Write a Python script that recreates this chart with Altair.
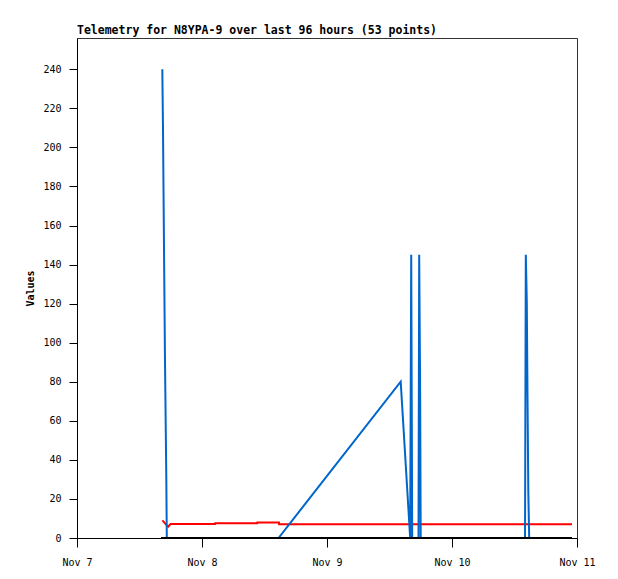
import altair as alt
import pandas as pd

BASE = pd.Timestamp("2024-11-07 00:00:00")

title_text = "Telemetry for N8YPA-9 over last 96 hours (53 points)"
y_title = "Values"
x_tick_days = [7, 8, 9, 10, 11]
y_ticks = [0, 20, 40, 60, 80, 100, 120, 140, 160, 180, 200, 220, 240]

# hours after Nov 7 00:00
blue_hours = [16.38, 16.51, 16.70, 16.90, 17.15, 17.24, 38.69, 62.15, 63.97, 64.17,
              64.36, 65.57, 65.70, 65.89, 65.99, 86.02, 86.17, 86.36, 86.50, 86.65,
              86.82, 95.04]
blue_values = [240, 210, 150, 90, 30, 0, 0, 80, 0, 145,
               0, 0, 145, 72, 0, 0, 145, 121, 72, 24,
               0, 0]

red_hours = [16.40, 17.36, 17.53, 17.85, 17.99, 26.50, 26.52, 34.60, 34.62, 38.78, 38.80, 95.04]
red_values = [9.0, 6.1, 5.8, 6.8, 7.2, 7.2, 7.5, 7.5, 8.0, 8.0, 7.0, 7.0]

black_hours = [16.13, 95.04]
black_values = [0, 0]


def frame(hours, values):
    return pd.DataFrame({
        "time": [(BASE + pd.Timedelta(hours=h)).strftime("%Y-%m-%dT%H:%M:%S") for h in hours],
        "value": values,
    })


def day(d):
    return alt.DateTime(year=2024, month=11, date=d, hours=0)


FONT = "DejaVu Sans Mono"

x_enc = alt.X(
    "time:T",
    scale=alt.Scale(domain=[day(7), day(11)]),
    axis=alt.Axis(
        values=[day(d) for d in x_tick_days],
        format="%b %-d",
        title=None,
        grid=False,
        tickSize=9,
        labelPadding=10,
        labelFlush=False,
        labelOverlap=False,
        labelFont=FONT,
        labelFontSize=10,
        labelColor="black",
        tickColor="black",
        domainColor="black",
    ),
)
y_enc = alt.Y(
    "value:Q",
    scale=alt.Scale(domain=[0, 256], nice=False, zero=True),
    axis=alt.Axis(
        values=y_ticks,
        title=y_title,
        titleFont=FONT,
        titleFontSize=10,
        titleFontWeight="bold",
        titleColor="black",
        titlePadding=7,
        grid=False,
        tickSize=8,
        labelPadding=8,
        labelFont=FONT,
        labelFontSize=10,
        labelColor="black",
        tickColor="black",
        domainColor="black",
    ),
)


def layer(hours, values, color):
    return alt.Chart(frame(hours, values)).mark_line(
        color=color, strokeWidth=2, interpolate="linear"
    ).encode(x=x_enc, y=y_enc)


chart = alt.layer(
    layer(red_hours, red_values, "#ff0000"),
    layer(blue_hours, blue_values, "#0066cc"),
    layer(black_hours, black_values, "#000000"),
).properties(
    width=500,
    height=500,
    title=alt.TitleParams(
        title_text,
        anchor="start",
        frame="group",
        font=FONT,
        fontSize=11.5,
        fontWeight="bold",
        color="black",
        baseline="bottom",
        offset=4,
        dy=13,
    ),
    autosize=alt.AutoSizeParams(type="none"),
    padding={"left": 69, "top": 30, "right": 33, "bottom": 33},
    background="white",
).configure_view(stroke="#333333", strokeWidth=1)

chart.save("out.html", embed_options={"renderer": "svg", "actions": False})
